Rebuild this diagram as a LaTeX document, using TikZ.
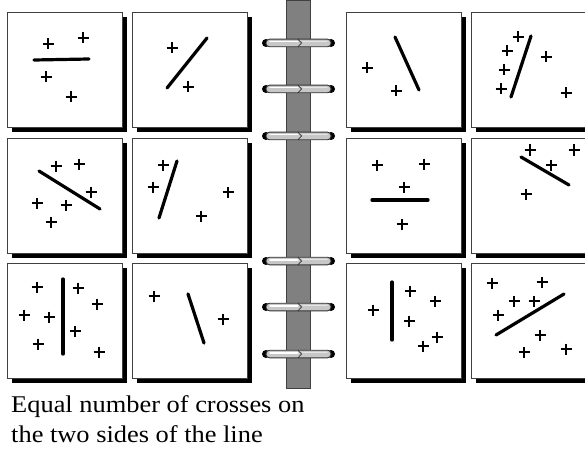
\documentclass[tikz,border=0pt]{standalone}
\usepackage{fontspec}
\setmainfont{Liberation Serif}
\usetikzlibrary{shadows}
\begin{document}
\begin{tikzpicture}[x=1pt,y=-1pt,
  panel/.style={draw=black!75,line width=0.9pt,fill=white,minimum width=115pt,minimum height=115pt,inner sep=0pt,anchor=north west,
    drop shadow={shadow xshift=5pt,shadow yshift=-5pt,fill=black,opacity=1}},
  divline/.style={line width=3.2pt,line cap=round,black},
  crossline/.style={line width=2.2pt,black},
  pics/plus/.style={code={\draw[crossline] (-5.5,0)--(5.5,0) (0,-5.5)--(0,5.5);}},
  spinebar/.style={fill=black!50,draw=black!75,line width=0.8pt},
  ringbody/.style={fill=black!22,draw=black!80,line width=0.9pt,rounded corners=3.5pt},
  ringend/.style={fill=black,circle,inner sep=0pt,minimum size=8pt},
  caption/.style={anchor=base west,inner sep=0pt,xscale=1.1,transform shape,font=\fontsize{24}{30}\selectfont}]
\useasboundingbox[fill=white] (0,0) rectangle (585,449);
% spine
\node[spinebar,anchor=north west,minimum width=24pt,minimum height=388pt,inner sep=0pt] (spine) at (286,0) {};
% rings
\foreach \y [count=\i] in {43,89,136,261,307,354}{
  \coordinate (rl\i) at (266,\y);
  \coordinate (rr\i) at (331,\y);
  \node[ringend] (el\i) at (rl\i) {};
  \node[ringend] (er\i) at (rr\i) {};
  \draw[ringbody] (266,\y-3.8) rectangle (331,\y+3.8);
  \draw[white,line width=1.4pt,line cap=round] (270,\y-1.2) -- (298,\y-1.2);
  \draw[black!10,line width=1.2pt,line cap=round] (303,\y-1.2) -- (327,\y-1.2);
  \draw[black!80,line width=0.7pt] (298,\y-3.8) -- (301.5,\y) -- (298,\y+3.8);
}
% panels
\node[panel] (b1) at (7,12) {};
\node[panel] (b2) at (132,12) {};
\node[panel] (b3) at (346,12) {};
\node[panel] (b4) at (471,12) {};
\node[panel] (b5) at (7,138) {};
\node[panel] (b6) at (132,138) {};
\node[panel] (b7) at (346,138) {};
\node[panel] (b8) at (471,138) {};
\node[panel] (b9) at (7,263) {};
\node[panel] (b10) at (132,263) {};
\node[panel] (b11) at (346,263) {};
\node[panel] (b12) at (471,263) {};
% panel 1
\draw[divline] (34,60) -- (89,59);
\foreach \p in {(48,44),(83,38),(46,77),(71,97)} \pic at \p {plus};
% panel 2
\draw[divline] (167,88) -- (207,38);
\foreach \p in {(172,48),(188,87)} \pic at \p {plus};
% panel 3
\draw[divline] (395,37) -- (419,90);
\foreach \p in {(367,68),(396,91)} \pic at \p {plus};
% panel 4
\draw[divline] (531,36) -- (511,97);
\foreach \p in {(518,37),(507,51),(504,70),(501,89),(546,57),(566,93)} \pic at \p {plus};
% panel 5
\draw[divline] (39,171) -- (100,209);
\foreach \p in {(56,166),(79,164),(91,192),(37,203),(66,205),(51,222)} \pic at \p {plus};
% panel 6
\draw[divline] (177,161) -- (159,218);
\foreach \p in {(163,165),(153,187),(228,192),(201,216)} \pic at \p {plus};
% panel 7
\draw[divline] (372,200) -- (428,200);
\foreach \p in {(377,165),(424,164),(404,187),(402,224)} \pic at \p {plus};
% panel 8
\draw[divline] (521,157) -- (569,185);
\foreach \p in {(530,150),(574,150),(551,165),(526,194)} \pic at \p {plus};
% panel 9
\draw[divline] (63,279) -- (63,354);
\foreach \p in {(37,287),(78,288),(97,304),(24,315),(49,317),(75,331),(38,344),(99,352)} \pic at \p {plus};
% panel 10
\draw[divline] (188,294) -- (204,343);
\foreach \p in {(154,296),(223,319)} \pic at \p {plus};
% panel 11
\draw[divline] (392,282) -- (392,340);
\foreach \p in {(373,310),(410,291),(435,301),(409,321),(437,337),(423,346)} \pic at \p {plus};
% panel 12
\draw[divline] (496,335) -- (564,294);
\foreach \p in {(492,283),(542,282),(514,301),(534,301),(498,315),(540,335),(524,352),(566,349)} \pic at \p {plus};
% caption
\node[caption] (t1) at (11,412) {Equal number of crosses on};
\node[caption] (t2) at (11,442) {the two sides of the line};
\end{tikzpicture}
\end{document}
